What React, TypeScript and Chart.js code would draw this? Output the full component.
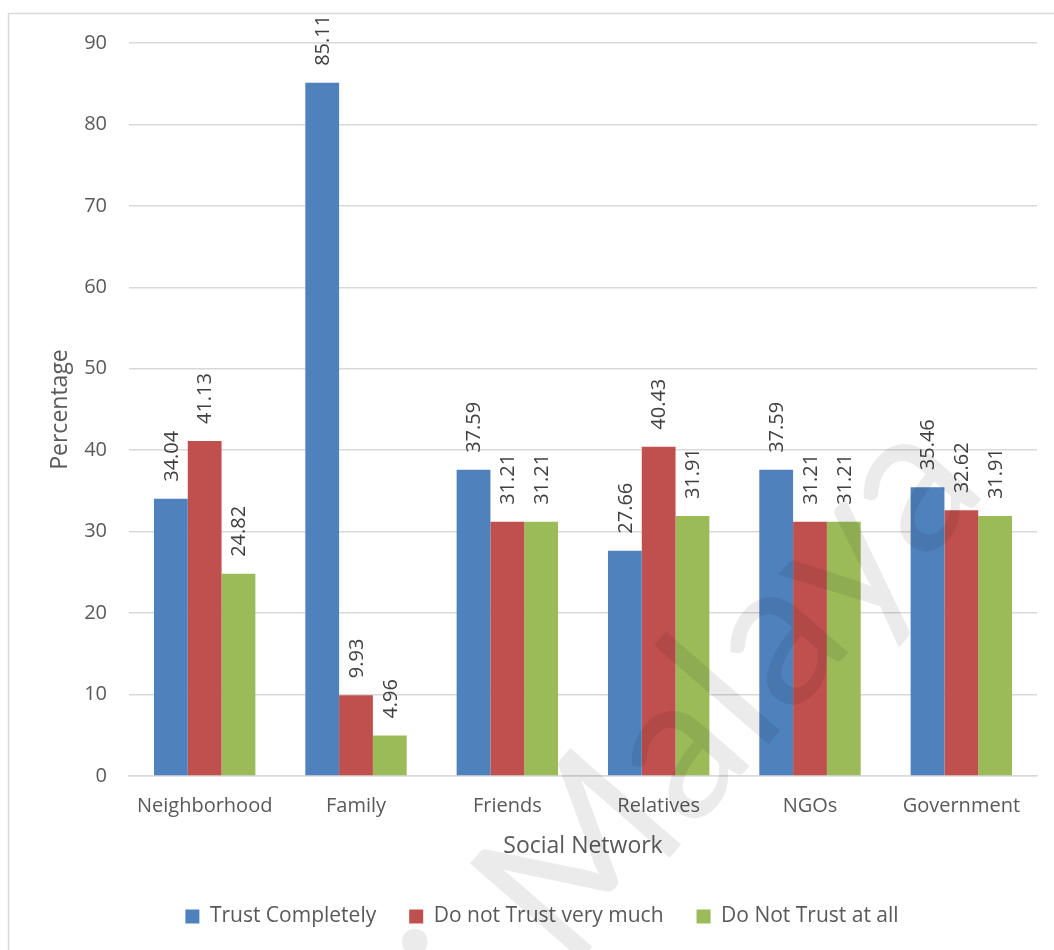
import React, { useEffect, useRef } from "react";
import { Chart, registerables } from "chart.js";

Chart.register(...registerables);

const categories = ["Neighborhood", "Family", "Friends", "Relatives", "NGOs", "Government"];
const seriesNames = ["Trust Completely", "Do not Trust very much", "Do Not Trust at all"];
const trustCompletely = [34.04, 85.11, 37.59, 27.66, 37.59, 35.46];
const notTrustVeryMuch = [41.13, 9.93, 31.21, 40.43, 31.21, 32.62];
const notTrustAtAll = [24.82, 4.96, 31.21, 31.91, 31.21, 31.91];
const seriesColors = ["#4F81BD", "#C0504D", "#9BBB59"];
const yMin = 0;
const yMax = 90;
const yStep = 10;
const xTitle = "Social Network";
const yTitle = "Percentage";
const watermarkText = "Universiti Malaya";

const FONT = "'Open Sans', sans-serif";
const TEXT = "#595959";

const framePlugin = {
  id: "frame",
  beforeDraw(chart: any) {
    const ctx = chart.ctx;
    ctx.save();
    ctx.fillStyle = "#ffffff";
    ctx.fillRect(0, 0, chart.width, chart.height);
    ctx.strokeStyle = "#D9D9D9";
    ctx.lineWidth = 1.5;
    ctx.strokeRect(8.5, 13.5, chart.width + 20, chart.height + 20);
    ctx.restore();
  },
};

const dataLabelPlugin = {
  id: "dataLabels",
  afterDatasetsDraw(chart: any) {
    const ctx = chart.ctx;
    chart.data.datasets.forEach((ds: any, i: number) => {
      const meta = chart.getDatasetMeta(i);
      meta.data.forEach((bar: any, j: number) => {
        const v = ds.data[j];
        ctx.save();
        ctx.translate(bar.x + 1, bar.y - 17);
        ctx.rotate(-Math.PI / 2);
        ctx.font = `20px ${FONT}`;
        ctx.fillStyle = "#404040";
        ctx.textAlign = "left";
        ctx.textBaseline = "middle";
        ctx.fillText(v.toFixed(2), 0, 0);
        ctx.restore();
      });
    });
  },
};

const watermarkPlugin = {
  id: "watermark",
  afterDraw(chart: any) {
    const ctx = chart.ctx;
    ctx.save();
    const size = 205;
    ctx.font = `${size}px Lato, sans-serif`;
    const wFull = ctx.measureText(watermarkText).width;
    const wA = ctx.measureText("a").width;
    const ang = (49 * Math.PI) / 180;
    const u = [Math.cos(ang), -Math.sin(ang)];
    const v = [-Math.sin(ang), -Math.cos(ang)];
    const cx = 918;
    const cy = 494;
    const along = wFull - wA / 2;
    const up = size * 0.25;
    const ox = cx - along * u[0] - up * v[0];
    const oy = cy - along * u[1] - up * v[1];
    ctx.translate(ox, oy);
    ctx.rotate(-ang);
    ctx.fillStyle = "rgba(0,0,0,0.08)";
    ctx.textAlign = "left";
    ctx.textBaseline = "alphabetic";
    ctx.fillText(watermarkText, 0, 0);
    ctx.restore();
  },
};

export default function App() {
  const canvasRef = useRef<HTMLCanvasElement | null>(null);

  useEffect(() => {
    const canvas = canvasRef.current;
    if (!canvas) return;
    const seriesData = [trustCompletely, notTrustVeryMuch, notTrustAtAll];
    const chart = new Chart(canvas, {
      type: "bar",
      data: {
        labels: categories,
        datasets: seriesNames.map((name, i) => ({
          label: name,
          data: seriesData[i],
          backgroundColor: seriesColors[i],
          borderWidth: 0,
          categoryPercentage: 0.67,
          barPercentage: 1,
        })),
      },
      options: {
        responsive: false,
        animation: false,
        devicePixelRatio: 1,
        layout: { padding: { left: 47, right: 17, top: 43, bottom: 13 } },
        plugins: {
          legend: {
            position: "bottom",
            labels: {
              boxWidth: 14,
              boxHeight: 14,
              padding: 33,
              color: TEXT,
              font: { family: FONT, size: 21 },
            },
          },
          tooltip: { enabled: false },
          title: { display: false },
        },
        scales: {
          x: {
            grid: { display: false, drawTicks: false },
            border: { display: true, color: "#D9D9D9", width: 1.5 },
            ticks: { color: TEXT, font: { family: FONT, size: 20 }, padding: 18, maxRotation: 0 },
            title: {
              display: true,
              text: xTitle,
              color: TEXT,
              font: { family: FONT, size: 23 },
              padding: { top: 0, bottom: 13 },
            },
            afterFit(scale: any) {
              scale.height = 97;
            },
          },
          y: {
            min: yMin,
            max: yMax,
            ticks: { stepSize: yStep, color: TEXT, font: { family: FONT, size: 20 }, padding: 22 },
            grid: { color: "#D9D9D9", lineWidth: 1.5, drawTicks: false },
            border: { display: false },
            title: {
              display: true,
              text: yTitle,
              color: TEXT,
              font: { family: FONT, size: 23 },
              padding: { top: 0, bottom: 0 },
            },
            afterFit(scale: any) {
              scale.width = 82;
            },
          },
        },
      },
      plugins: [framePlugin, dataLabelPlugin, watermarkPlugin],
    });
    return () => chart.destroy();
  }, []);

  return (
    <div style={{ position: "absolute", left: 0, top: 0, width: 1054, height: 950 }}>
      <canvas ref={canvasRef} width={1054} height={950} style={{ display: "block" }} />
    </div>
  );
}
